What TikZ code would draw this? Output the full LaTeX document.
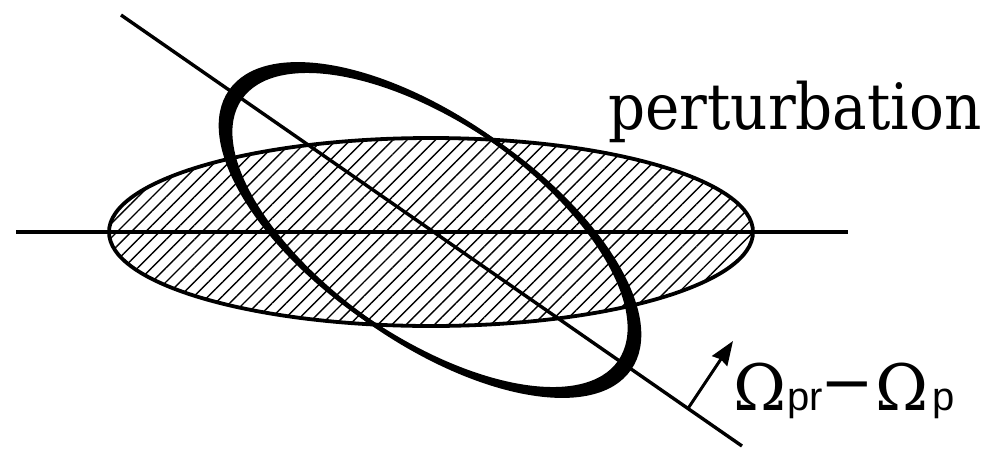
\documentclass[tikz,border=0pt]{standalone}
\usepackage{fontspec}
\setmainfont{DejaVu Serif}
\setsansfont{Liberation Sans}
\usetikzlibrary{arrows.meta,patterns.meta,calc}
\tikzset{
 axis/.style={line width=3.4pt,draw=black},
 disc/.style={line width=3.8pt,draw=black,pattern={Lines[angle=45,distance=10pt,line width=1.4pt]}},
 ring/.style={line width=4.3pt,draw=black},
 nib/.style={fill=black,even odd rule},
 lbl/.style={inner sep=0pt,anchor=base west},
 arr/.style={-{Stealth[length=24pt,width=18pt,inset=2pt]},line width=3pt}
}
\newcommand{\bigsz}{\fontsize{64}{64}\selectfont}
\newcommand{\subsz}{\sffamily\fontsize{40}{40}\selectfont}

\begin{document}
\begin{tikzpicture}[x=1pt,y=-1pt]
\useasboundingbox (0,0) rectangle (989,448);
\coordinate (discC) at (431,232);
\coordinate (ringC) at (430,230);
\coordinate (ringP) at ($(ringC)+(4.7,3.3)$);
\coordinate (ringM) at ($(ringC)-(4.7,3.3)$);
\coordinate (axisL) at (16,232);
\coordinate (axisR) at (848,232);
\coordinate (diagA) at (121,15);
\coordinate (diagB) at (742,446);
\coordinate (arrS) at (688,408.5);
\coordinate (arrE) at (733,341);
% hatched disc and the two axes
\draw[disc] (discC) ellipse [x radius=322,y radius=94];
\draw[axis] (axisL) -- (axisR);
\draw[axis] (diagA) -- (diagB);
% tilted orbit, heavier at both ends
\fill[nib] (ringP) ellipse [x radius=237,y radius=109.6,rotate=-34.8]
           (ringM) ellipse [x radius=237,y radius=109.6,rotate=-34.8];
\draw[ring] (ringP) ellipse [x radius=237,y radius=109.6,rotate=-34.8];
\draw[ring] (ringM) ellipse [x radius=237,y radius=109.6,rotate=-34.8];
\node[lbl] (pert) at (608,129) {\scalebox{1}[1.1]{\fontsize{58}{58}\selectfont perturbation}};
\node[lbl] (freq) at (733,410) {\bigsz Ω\kern1pt{\subsz pr}\kern-2pt\raisebox{6pt}{\bigsz −}\kern1pt Ω\kern4pt{\subsz p}};
\draw[arr] (arrS) -- (arrE);
\end{tikzpicture}
\end{document}
